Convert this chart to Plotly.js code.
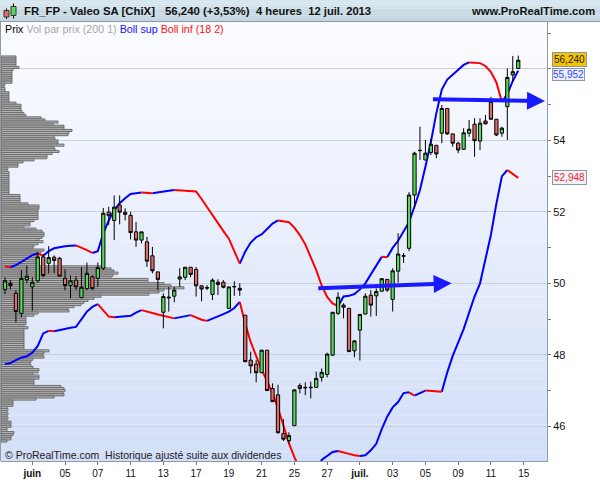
<!DOCTYPE html>
<html><head><meta charset="utf-8">
<script src="https://cdn.plot.ly/plotly-3.0.1.min.js"></script>
<style>html,body{margin:0;padding:0;background:#fff}#chart{width:600px;height:480px}</style>
</head><body><div id="chart"></div>
<script>
// ---- data (4-hour candles, 31 May -> 12 July 2013) ----
const opens  = [49.83,50.00,49.72,49.16,50.10,49.90,50.07,50.74,50.56,50.73,50.70,50.14,49.94,50.09,49.60,49.85,50.18,50.14,50.42,51.99,51.76,52.19,51.99,51.90,51.44,51.21,51.16,50.77,50.32,49.19,49.59,49.64,50.12,50.17,50.45,50.39,49.93,49.88,49.69,50.03,50.03,49.30,49.90,49.86,49.11,47.85,47.74,47.50,48.13,47.06,46.88,45.80,45.60,46.02,47.14,47.09,47.08,47.09,47.37,47.45,47.99,49.16,49.39,49.30,48.11,48.69,49.14,49.67,49.65,49.78,50.11,49.55,50.34,50.76,50.98,52.47,53.71,53.45,53.66,53.86,54.20,54.89,54.18,53.92,53.75,54.20,54.45,53.98,54.54,55.06,54.59,54.20,54.94,55.83,56.01];
const highs  = [50.17,50.09,49.81,50.37,50.49,50.17,50.88,50.82,51.04,50.78,50.74,50.39,50.22,50.20,50.45,50.58,50.23,50.58,52.11,52.14,52.46,52.46,52.10,52.00,51.72,51.44,51.30,51.02,50.32,49.72,49.90,49.90,50.42,50.45,50.45,50.46,49.95,49.95,50.14,50.11,50.09,49.90,50.06,50.00,49.11,48.09,47.85,48.13,48.13,47.20,47.16,46.20,45.83,47.02,47.20,47.23,47.25,47.53,47.62,48.06,49.19,49.75,49.44,49.30,48.41,49.13,49.72,49.81,49.86,50.14,50.12,50.42,51.40,50.85,52.55,53.68,54.38,54.01,54.04,53.86,54.99,54.89,54.18,53.96,54.34,54.57,54.62,54.62,54.71,55.22,54.59,54.38,56.01,56.36,56.37];
const lows   = [49.70,49.83,48.91,49.05,50.00,49.23,50.02,50.17,50.28,50.28,50.20,49.81,49.58,49.81,49.58,49.81,49.81,49.90,50.37,51.63,51.21,51.65,51.76,51.23,51.02,51.12,50.46,50.28,49.81,48.74,49.21,49.47,49.90,50.09,50.17,49.63,49.50,49.81,49.53,49.67,49.86,49.28,49.65,49.65,47.79,47.48,47.23,47.49,46.99,46.69,45.80,45.59,45.52,46.01,46.92,46.87,46.78,47.09,47.25,47.37,47.97,49.11,49.02,48.08,47.93,47.84,49.14,49.07,49.09,49.77,49.76,49.21,50.02,50.57,50.90,52.10,53.45,53.45,53.59,53.50,53.92,54.15,53.82,53.64,53.73,54.10,53.54,53.73,54.45,54.58,54.12,54.10,54.01,55.64,55.99];
const closes = [50.07,49.94,49.21,50.14,50.20,50.03,50.74,50.22,50.72,50.64,50.20,49.94,50.07,49.90,49.89,50.28,49.85,50.44,51.96,51.89,52.13,51.99,51.93,51.42,51.21,51.44,50.62,50.35,50.11,49.63,49.61,49.81,50.18,50.45,50.25,49.93,49.84,49.87,50.09,49.97,49.89,49.90,49.91,49.81,47.81,47.69,47.50,48.13,47.00,46.69,45.82,45.64,45.74,47.02,47.06,47.08,47.09,47.34,47.51,48.02,49.19,49.61,49.33,48.09,48.39,49.13,49.64,49.39,49.77,50.13,49.81,50.35,50.82,50.77,52.47,53.64,53.72,53.64,53.89,53.62,54.89,54.18,53.92,53.73,54.21,54.31,53.99,54.48,54.46,54.59,54.15,54.34,55.76,55.92,56.24];
const bollSup = [50.48,50.45,50.51,50.60,50.70,50.79,50.84,50.77,50.90,50.98,51.02,51.04,51.05,51.06,51.00,50.93,50.85,50.90,51.40,51.76,52.05,52.24,52.38,52.50,52.52,52.54,52.53,52.52,52.55,52.57,52.59,52.61,52.60,52.59,52.58,52.57,52.36,52.13,51.90,51.67,51.46,51.25,50.92,50.55,50.89,51.14,51.29,51.37,51.53,51.67,51.76,51.73,51.71,51.56,51.35,51.09,50.75,50.37,49.94,49.62,49.44,49.36,49.63,49.65,49.70,49.83,50.00,50.25,50.50,50.74,50.73,50.99,51.19,51.44,51.71,52.15,52.61,53.26,53.95,54.76,55.42,55.70,55.83,55.96,56.11,56.18,56.17,56.16,56.08,55.91,55.62,55.08,55.29,55.66,55.95];
const bollInf = [47.74,47.77,47.85,47.92,47.96,48.06,48.25,48.60,48.67,48.66,48.70,48.73,48.76,48.78,48.98,49.21,49.34,49.42,49.24,49.07,49.05,49.07,49.08,49.09,49.18,49.25,49.20,49.17,49.13,49.09,49.05,49.02,49.05,49.08,49.11,49.04,48.98,48.95,49.01,49.06,49.14,49.21,49.31,49.48,48.87,48.36,47.95,47.58,47.27,46.92,46.51,46.04,45.53,45.14,44.80,44.60,44.50,44.70,45.06,45.18,45.28,45.31,45.28,45.23,45.19,45.17,45.19,45.33,45.51,45.92,46.27,46.53,46.68,46.93,46.95,46.86,46.92,47.00,46.99,46.98,46.97,47.51,47.97,48.34,48.72,49.18,49.63,50.00,50.69,51.36,52.23,52.99,53.17,53.07,52.95];
// volume by price, bins from the top price level down
const volParPrix = [15,15,15,15,15,18,12,11,11,11,11,11,11,4,3,4,4,8,8,8,8,8,15,20,20,20,21,23,25,40,44,57,52,63,63,71,68,67,53,54,57,57,63,53,54,58,51,46,46,33,22,17,17,7,6,8,8,8,8,8,8,8,8,8,8,8,19,19,19,19,27,38,38,37,37,37,37,37,33,29,29,23,35,41,43,43,41,38,42,37,33,32,43,40,38,36,35,35,35,38,100,110,113,117,112,110,147,147,163,170,183,163,158,148,100,93,87,83,80,73,67,68,37,33,25,25,25,25,23,27,23,23,23,23,23,23,23,23,23,23,48,43,42,43,32,30,29,30,32,38,37,32,38,38,33,33,33,60,63,64,62,63,53,35,12,12,12,6,7,6,7,6,7,6,10,10,10,6,6,13,12,10,10,6];
const volTopPrice = 56.36, volBinSize = 0.0587;
const tickIdx    = [5,11,17,23,29,35,41,47,53,59,65,71,77,83,89,95];
const tickLabels = ['<b>juin</b>','05','07','11','13','17','19','21','25','27','<b>juil.</b>','03','05','09','11','15'];
const priceTicks  = [46,48,50,52,54,56];
const priceLabels = ['46','48','50','52','54',''];   // "56" is hidden under the last-price box
const lastClose = 56.240, lastSup = 55.952, lastInf = 52.948;
const arrow1 = {x0:57.1, y0:49.86, x1:81.8, y1:50.00};
const arrow2 = {x0:78.1, y0:55.15, x1:98.9, y1:55.10};

// ---- build ----
const idx = closes.map((_, i) => i);
const F = 'Liberation Sans, Arial, sans-serif';
const traces = [];
traces.push({
  type:'bar', orientation:'h', xaxis:'x', yaxis:'y',
  x: volParPrix, y: volParPrix.map((_, i) => volTopPrice - (i + 0.5) * volBinSize),
  width: volBinSize, marker:{color:'#b4b4b4', line:{color:'#6f6f6f', width:1}},
  hoverinfo:'skip', showlegend:false
});
function bandTraces(vals) {
  const up = {x:[], y:[]}, dn = {x:[], y:[]};
  let lastCol = null;
  for (let i = 0; i < vals.length - 1; i++) {
    const col = vals[i + 1] > vals[i] ? 'up' : 'dn';
    const t = col === 'up' ? up : dn;
    if (lastCol !== col) {
      if (t.x.length) { t.x.push(null); t.y.push(null); }
      t.x.push(i); t.y.push(vals[i]);
    }
    t.x.push(i + 1); t.y.push(vals[i + 1]);
    lastCol = col;
  }
  return [
    {type:'scatter', mode:'lines', xaxis:'x2', yaxis:'y', x:up.x, y:up.y, connectgaps:false, line:{color:'#0000ff', width:2}, hoverinfo:'skip', showlegend:false},
    {type:'scatter', mode:'lines', xaxis:'x2', yaxis:'y', x:dn.x, y:dn.y, connectgaps:false, line:{color:'#ff0000', width:2}, hoverinfo:'skip', showlegend:false}
  ];
}
traces.push(...bandTraces(bollSup), ...bandTraces(bollInf));
traces.push({
  type:'candlestick', xaxis:'x3', yaxis:'y', x: idx, open: opens, high: highs, low: lows, close: closes,
  increasing:{line:{color:'#000000', width:1}, fillcolor:'#58d858'},
  decreasing:{line:{color:'#000000', width:1}, fillcolor:'#e46a6a'},
  whiskerwidth:0, hoverinfo:'skip', showlegend:false
});

const shapes = [];
const N = 48;
for (let i = 0; i < N; i++) {
  const t = i / (N - 1);
  const c0 = [251,252,255], c1 = [211,223,248];
  const c = c0.map((v, k) => Math.round(v + (c1[k] - v) * t));
  shapes.push({type:'rect', xref:'paper', yref:'paper', x0:0, x1:1, y0:1 - (i + 1) / N, y1:1 - i / N,
    fillcolor:`rgb(${c.join(',')})`, line:{width:0}, layer:'below'});
}
const HB = 22 / 439;
for (let i = 0; i < 10; i++) {
  const t = i / 9;
  const c0 = [214,230,238], c1 = [188,209,220];
  const c = c0.map((v, k) => Math.round(v + (c1[k] - v) * t));
  shapes.push({type:'rect', xref:'paper', yref:'paper', x0:-0.01, x1:1.2, y0:1 + HB - (i + 1) * HB / 10, y1:1 + HB - i * HB / 10,
    fillcolor:`rgb(${c.join(',')})`, line:{width:0}, layer:'below'});
}
shapes.push({type:'line', xref:'paper', yref:'paper', x0:-0.01, x1:1.2, y0:1.001, y1:1.001, line:{color:'#8d9ca8', width:1}});
const px = v => (v - 1) / 546, py = v => (461 - v) / 439;
shapes.push({type:'line', xref:'paper', yref:'paper', x0:px(0.5), x1:px(0.5), y0:0, y1:1, line:{color:'#8d9ca8', width:1}});
shapes.push({type:'line', xref:'paper', yref:'paper', x0:px(6.5), x1:px(6.5), y0:py(8.5), y1:py(19), line:{color:'#000', width:1}});
shapes.push({type:'rect', xref:'paper', yref:'paper', x0:px(4), x1:px(9), y0:py(10.5), y1:py(17), fillcolor:'#e46a6a', line:{color:'#333', width:1}});
shapes.push({type:'line', xref:'paper', yref:'paper', x0:px(13.5), x1:px(13.5), y0:py(3.5), y1:py(18.5), line:{color:'#000', width:1}});
shapes.push({type:'rect', xref:'paper', yref:'paper', x0:px(11), x1:px(16), y0:py(6.5), y1:py(15.5), fillcolor:'#58d858', line:{color:'#333', width:1}});

const annotations = [
  {xref:'paper', yref:'paper', x:px(22), y:py(11), xanchor:'left', yanchor:'middle', showarrow:false,
   text:'<b>FR_FP - Valeo SA [ChiX]</b>', font:{family:F, size:11.4, color:'#111'}},
  {xref:'paper', yref:'paper', x:px(163), y:py(11), xanchor:'left', yanchor:'middle', showarrow:false,
   text:'<b>56,240 (+3,53%)</b>', font:{family:F, size:11.4, color:'#111'}},
  {xref:'paper', yref:'paper', x:px(254), y:py(11), xanchor:'left', yanchor:'middle', showarrow:false,
   text:'<b>4 heures  12 juil. 2013</b>', font:{family:F, size:11.2, color:'#111'}},
  {xref:'paper', yref:'paper', x:px(597), y:py(11), xanchor:'right', yanchor:'middle', showarrow:false,
   text:'<b>www.ProRealTime.com</b>', font:{family:F, size:11.2, color:'#111'}},
  {xref:'paper', yref:'paper', x:px(3), y:py(29), xanchor:'left', yanchor:'middle', showarrow:false,
   text:'Prix <span style="color:#a8a8a8">Vol par prix (200 1)</span> <span style="color:#1010ff">Boll sup</span> <span style="color:#ff1010">Boll inf (18 2)</span>',
   font:{family:F, size:10.7, color:'#000'}},
  {xref:'paper', yref:'paper', x:px(3), y:py(455), xanchor:'left', yanchor:'middle', showarrow:false,
   text:'© ProRealTime.com  Historique ajusté suite aux dividendes', font:{family:F, size:10.5, color:'#222'}},
  {xref:'paper', yref:'y', x:px(552), y:lastSup, yshift:-4, xanchor:'left', yanchor:'middle', showarrow:false,
   text:lastSup.toFixed(3).replace('.', ','), font:{family:F, size:10, color:'#3a4cff'}, bgcolor:'#e8eefc', bordercolor:'#8a98a6', borderwidth:1, borderpad:0},
  {xref:'paper', yref:'y', x:px(552), y:lastClose, yshift:1, xanchor:'left', yanchor:'middle', showarrow:false,
   text:lastClose.toFixed(3).replace('.', ','), font:{family:F, size:10, color:'#222'}, bgcolor:'#f5c400', bordercolor:'#8a98a6', borderwidth:1, borderpad:1},
  {xref:'paper', yref:'y', x:px(552), y:lastInf, xanchor:'left', yanchor:'middle', showarrow:false,
   text:lastInf.toFixed(3).replace('.', ','), font:{family:F, size:10, color:'#ff2020'}, bgcolor:'#eef2fb', bordercolor:'#8a98a6', borderwidth:1, borderpad:1}
];
for (const a of [arrow1, arrow2]) {
  annotations.push({x:a.x1, y:a.y1, ax:a.x0, ay:a.y0, xref:'x2', yref:'y', axref:'x2', ayref:'y',
    text:'', showarrow:true, arrowhead:2, arrowsize:0.9, arrowwidth:4, arrowcolor:'#1a1aff'});
}

const idxRange = [-0.733, 99.267];
const layout = {
  width:600, height:480, margin:{l:1, r:53, t:22, b:19},
  paper_bgcolor:'#ffffff', plot_bgcolor:'rgba(0,0,0,0)', showlegend:false, boxgap:0.15,
  xaxis:{range:[0, 546], visible:false, fixedrange:true},
  xaxis2:{overlaying:'x', side:'bottom', range:idxRange, tickvals:tickIdx, ticktext:tickLabels, ticks:'outside', ticklen:3, tickcolor:'#777',
    showgrid:false, zeroline:false, showline:true, linecolor:'#8d9ca8', linewidth:1,
    tickfont:{family:F, size:10, color:'#111'}, fixedrange:true},
  xaxis3:{overlaying:'x', range:idxRange, visible:false, rangeslider:{visible:false}, fixedrange:true},
  yaxis:{side:'right', range:[45.03, 57.31], tickmode:'array', tickvals:priceTicks, ticktext:priceLabels, ticks:'outside', ticklen:3, tickcolor:'#777',
    showgrid:true, gridcolor:'#c9d0dc', gridwidth:1, zeroline:false, showline:true, linecolor:'#8d9ca8', linewidth:1,
    minor:{tickmode:'linear', tick0:1, dtick:2, ticks:'outside', ticklen:3, tickcolor:'#777', showgrid:false},
    tickfont:{family:F, size:11, color:'#111'}, fixedrange:true},
  shapes, annotations
};
Plotly.newPlot('chart', traces, layout, {staticPlot:true, displayModeBar:false});
</script></body></html>
